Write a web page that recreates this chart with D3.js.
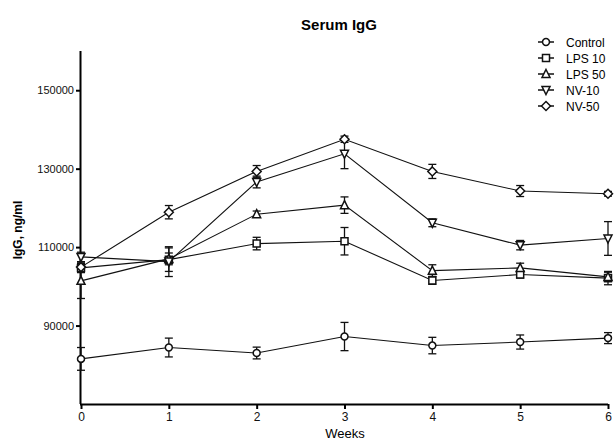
<!DOCTYPE html>
<html>
<head>
<meta charset="utf-8">
<script src="https://cdn.jsdelivr.net/npm/d3@7"></script>
<style>
  body { margin: 0; background: #fff; }
  text { font-family: "Liberation Sans", Arial, sans-serif; }
</style>
</head>
<body>
<svg id="chart" width="616" height="442"></svg>
<script>
const weeks = [0, 1, 2, 3, 4, 5, 6];
const seriesNames = ["Control", "LPS 10", "LPS 50", "NV-10", "NV-50"];
const yTicks = [90000, 110000, 130000, 150000];

// means per week
const control = [81500, 84400, 83000, 87200, 84900, 85800, 86800];
const lps10 = [104700, 106800, 110900, 111500, 101500, 103000, 102100];
const lps50 = [101400, 107000, 118400, 120700, 104000, 104700, 102400];
const nv10 = [107500, 106300, 126600, 133800, 116200, 110500, 112200];
const nv50 = [104900, 118900, 129300, 137500, 129300, 124300, 123600];

// error bar half heights (SEM)
const controlErr = [2900, 2400, 1500, 3600, 2100, 1800, 1400];
const lps10Err = [1200, 3000, 1600, 3500, 1000, 900, 1700];
const lps50Err = [4500, 1500, 800, 2100, 1500, 1200, 1200];
const nv10Err = [1200, 3800, 1500, 3800, 1000, 1200, 4300];
const nv50Err = [1000, 1700, 1500, 800, 1800, 1400, 600];

const symbols = ["circle", "square", "up", "down", "diamond"];

const series = [
  { name: seriesNames[0], values: control, err: controlErr, sym: symbols[0] },
  { name: seriesNames[1], values: lps10, err: lps10Err, sym: symbols[1] },
  { name: seriesNames[2], values: lps50, err: lps50Err, sym: symbols[2] },
  { name: seriesNames[3], values: nv10, err: nv10Err, sym: symbols[3] },
  { name: seriesNames[4], values: nv50, err: nv50Err, sym: symbols[4] }
];

const svg = d3.select("#chart");

const x = d3.scaleLinear().domain([0, 6]).range([81, 608]);
const y = d3.scaleLinear().domain([70000, 160000]).range([404, 51]);

// marker paths centred on 0,0
function markerPath(sym) {
  const s = 3.5;
  if (sym === "circle") return d3.symbol(d3.symbolCircle, 38)();
  if (sym === "square") return `M${-s},${-s}H${s}V${s}H${-s}Z`;
  if (sym === "up") return `M0,${-s - 1}L${s + 0.5},${s}H${-s - 0.5}Z`;
  if (sym === "down") return `M0,${s + 1}L${s + 0.5},${-s}H${-s - 0.5}Z`;
  return `M0,${-s - 1}L${s + 1},0L0,${s + 1}L${-s - 1},0Z`;
}

// axes
svg.append("g")
  .attr("transform", "translate(81,0)")
  .call(d3.axisLeft(y).tickValues(yTicks).tickSize(5).tickPadding(2).tickFormat(d3.format("d")))
  .call(g => g.select(".domain").attr("d", `M-0.5,${y.range()[1]}V${y.range()[0]}`).attr("stroke-width", 2))
  .call(g => g.selectAll(".tick line").attr("stroke-width", 2))
  .call(g => g.selectAll("text").attr("font-size", 11).attr("fill", "#111"));

svg.append("g")
  .attr("transform", "translate(0,404)")
  .call(d3.axisBottom(x).tickValues(weeks).tickSize(5).tickPadding(3).tickFormat(d3.format("d")))
  .call(g => g.select(".domain").attr("d", `M${x.range()[0] - 1},0.5H${x.range()[1]}`).attr("stroke-width", 2))
  .call(g => g.selectAll(".tick line").attr("stroke-width", 2))
  .call(g => g.selectAll("text").attr("font-size", 12).attr("fill", "#111"));

// lines
const line = d3.line().x((d, i) => x(weeks[i])).y(d => y(d));
svg.append("g").selectAll("path").data(series).join("path")
  .attr("d", d => line(d.values))
  .attr("fill", "none").attr("stroke", "#111").attr("stroke-width", 1.1);

// error bars
series.forEach(s => {
  const g = svg.append("g").attr("stroke", "#111").attr("stroke-width", 1.3);
  s.values.forEach((v, i) => {
    const cx = x(weeks[i]);
    g.append("line").attr("x1", cx).attr("x2", cx)
      .attr("y1", y(v + s.err[i])).attr("y2", y(v - s.err[i]));
    [v + s.err[i], v - s.err[i]].forEach(e => {
      g.append("line").attr("x1", cx - 4).attr("x2", cx + 4)
        .attr("y1", y(e)).attr("y2", y(e));
    });
  });
});

// markers
series.forEach(s => {
  svg.append("g").selectAll("path").data(s.values).join("path")
    .attr("transform", (d, i) => `translate(${x(weeks[i])},${y(d)})`)
    .attr("d", markerPath(s.sym))
    .attr("fill", "#fff").attr("stroke", "#111").attr("stroke-width", 1.5);
});

// title and axis labels
svg.append("text").attr("x", 339).attr("y", 30).attr("text-anchor", "middle")
  .attr("font-size", 15).attr("font-weight", "bold").text("Serum IgG");

svg.append("text").attr("transform", "translate(22,230) rotate(-90)")
  .attr("text-anchor", "middle").attr("font-size", 12).attr("font-weight", "bold")
  .text("IgG, ng/ml");

svg.append("text").attr("x", 345).attr("y", 438).attr("text-anchor", "middle")
  .attr("font-size", 13).text("Weeks");

// legend
const legend = svg.append("g").attr("transform", "translate(538,42)");
const rows = legend.selectAll("g").data(series).join("g")
  .attr("transform", (d, i) => `translate(0,${i * 16})`);
rows.append("line").attr("x1", 0).attr("x2", 16).attr("stroke", "#111").attr("stroke-width", 1.5);
rows.append("path").attr("transform", "translate(8,0)").attr("d", d => markerPath(d.sym))
  .attr("fill", "#fff").attr("stroke", "#111").attr("stroke-width", 1.5);
rows.append("text").attr("x", 28).attr("y", 4.5).attr("font-size", 12).text(d => d.name);
</script>
</body>
</html>
